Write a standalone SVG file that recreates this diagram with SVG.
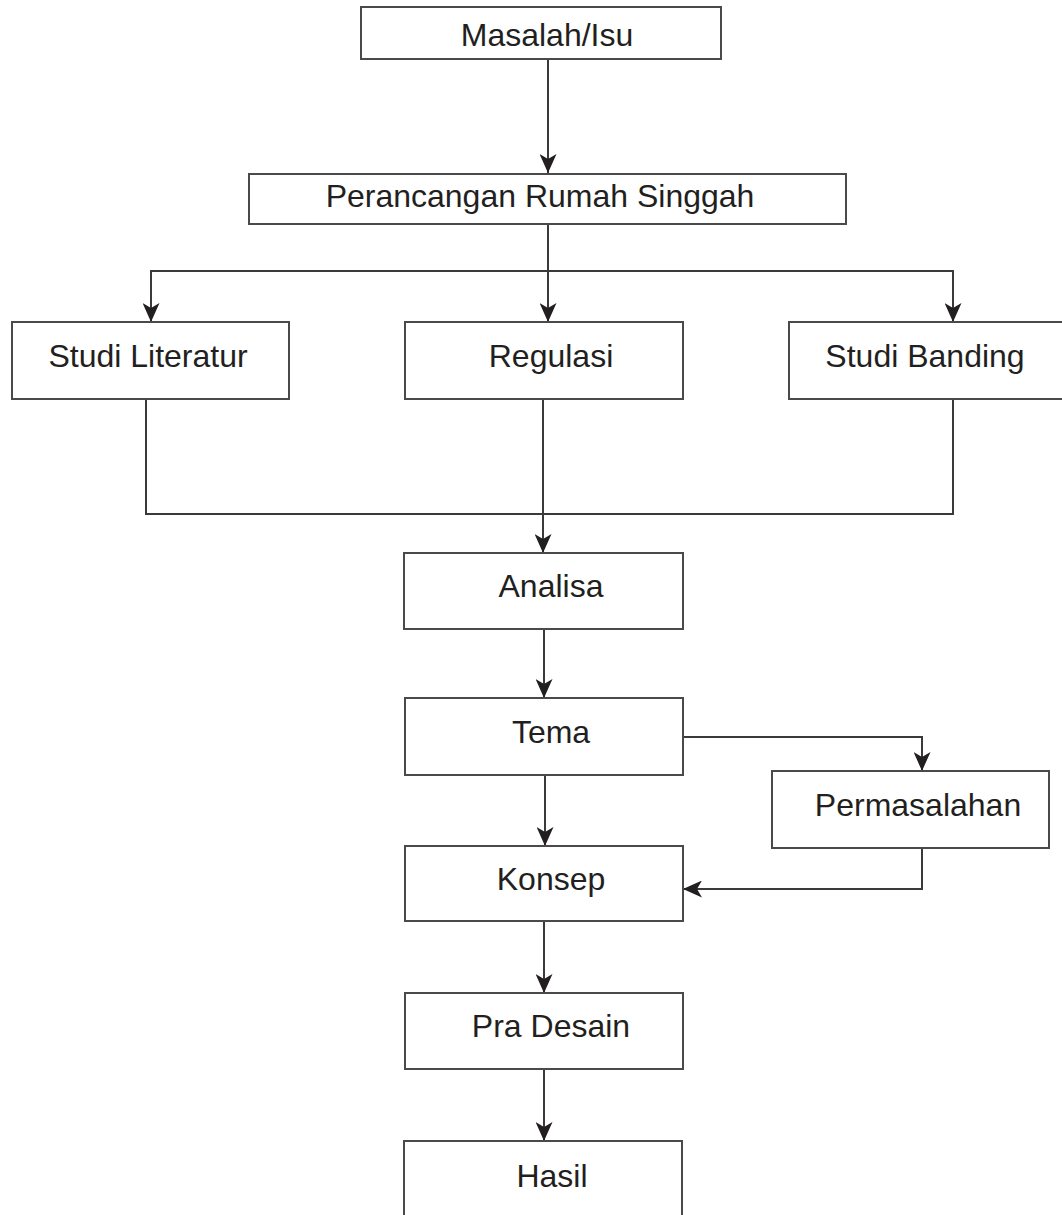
<svg xmlns="http://www.w3.org/2000/svg" width="1062" height="1215" viewBox="0 0 1062 1215">
<style>
.box{fill:#fff;stroke:#4a4a4a;stroke-width:2}
.lbl{font-family:"Liberation Sans",Arial,sans-serif;font-size:32px;fill:#231f20;text-anchor:middle}
.ln{fill:none;stroke:#3a3a3a;stroke-width:2}
</style>
<defs>
<marker id="ah" markerWidth="19" markerHeight="17" refX="19" refY="8.5" orient="auto" markerUnits="userSpaceOnUse" viewBox="0 0 19 17">
<path d="M0,0 L19,8.5 L0,17 L5,8.5 Z" fill="#231f20"/>
</marker>
</defs>
<rect width="1062" height="1215" fill="#fff"/>
<g id="connectors">
<path class="ln" d="M548,59 V173" marker-end="url(#ah)"/>
<path class="ln" d="M548,224 V322" marker-end="url(#ah)"/>
<path class="ln" d="M548,271 H151 V322" marker-end="url(#ah)"/>
<path class="ln" d="M548,271 H953 V322" marker-end="url(#ah)"/>
<path class="ln" d="M146,399 V514 H953 V399"/>
<path class="ln" d="M543,399 V553" marker-end="url(#ah)"/>
<path class="ln" d="M544,629 V698" marker-end="url(#ah)"/>
<path class="ln" d="M683,737 H922 V771" marker-end="url(#ah)"/>
<path class="ln" d="M545,775 V846" marker-end="url(#ah)"/>
<path class="ln" d="M922,848 V889 H683" marker-end="url(#ah)"/>
<path class="ln" d="M544,921 V993" marker-end="url(#ah)"/>
<path class="ln" d="M544,1069 V1141" marker-end="url(#ah)"/>
</g>
<g id="n-masalah"><rect class="box" x="361" y="7" width="360" height="52"/><text class="lbl" x="547" y="46">Masalah/Isu</text></g>
<g id="n-perancangan"><rect class="box" x="249" y="174" width="597" height="50"/><text class="lbl" x="540" y="207">Perancangan Rumah Singgah</text></g>
<g id="n-studi-literatur"><rect class="box" x="12" y="322" width="277" height="77"/><text class="lbl" x="148" y="367">Studi Literatur</text></g>
<g id="n-regulasi"><rect class="box" x="405" y="322" width="278" height="77"/><text class="lbl" x="551" y="367">Regulasi</text></g>
<g id="n-studi-banding"><rect class="box" x="789" y="322" width="280" height="77"/><text class="lbl" x="925" y="367">Studi Banding</text></g>
<g id="n-analisa"><rect class="box" x="404" y="553" width="279" height="76"/><text class="lbl" x="551" y="597">Analisa</text></g>
<g id="n-tema"><rect class="box" x="405" y="698" width="278" height="77"/><text class="lbl" x="551" y="743">Tema</text></g>
<g id="n-permasalahan"><rect class="box" x="772" y="771" width="277" height="77"/><text class="lbl" x="918" y="816">Permasalahan</text></g>
<g id="n-konsep"><rect class="box" x="405" y="846" width="278" height="75"/><text class="lbl" x="551" y="890">Konsep</text></g>
<g id="n-pra-desain"><rect class="box" x="405" y="993" width="278" height="76"/><text class="lbl" x="551" y="1037">Pra Desain</text></g>
<g id="n-hasil"><rect class="box" x="404" y="1141" width="278" height="90"/><text class="lbl" x="552" y="1187">Hasil</text></g>
</svg>
